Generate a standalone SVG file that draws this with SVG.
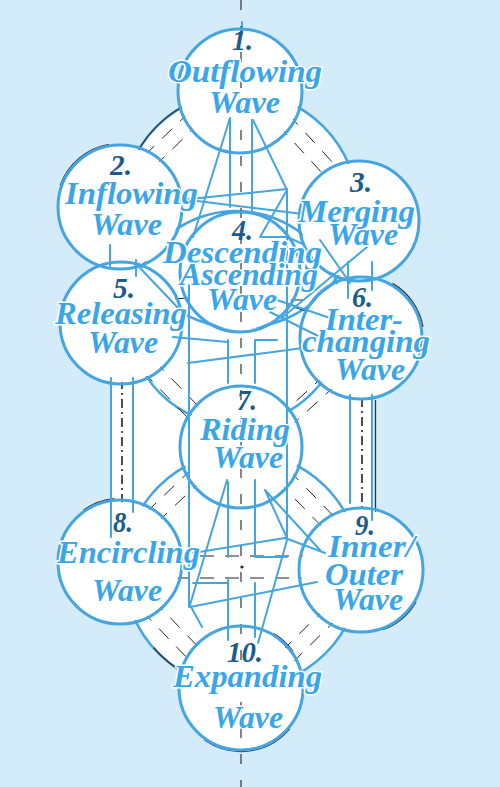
<svg xmlns="http://www.w3.org/2000/svg" width="500" height="787" viewBox="0 0 500 787">
<defs>
<style>
.ring{fill:none;stroke:#45a5e1;stroke-width:2.5}
.ln{fill:none;stroke:#45a5e1;stroke-width:2;stroke-linecap:round}
.hat{fill:none;stroke:#222;stroke-width:1;stroke-dasharray:14 11}
.blk{fill:none;stroke:#333;stroke-width:1.3}
.axis{fill:none;stroke:#222;stroke-width:1.1;stroke-dasharray:10 16}
.pil{fill:none;stroke:#222;stroke-width:1.6;stroke-dasharray:9 4 2 4}
.node{fill:none;stroke:#45a5e1;stroke-width:3}
.num{font-family:"Liberation Serif","Times New Roman",serif;font-weight:bold;font-style:italic;font-size:30px;fill:#1b5c8c}
.lab{font-family:"Liberation Serif","Times New Roman",serif;font-weight:bold;font-style:italic;font-size:31px;fill:#3aa6ea;stroke:#fff;stroke-width:3;paint-order:stroke;stroke-linejoin:round}
</style>
<mask id="outside" maskUnits="userSpaceOnUse" x="0" y="0" width="500" height="787">
<rect x="0" y="0" width="500" height="787" fill="#fff"/>
<circle cx="240" cy="91" r="60" fill="#000"/>
<circle cx="120" cy="207" r="60" fill="#000"/>
<circle cx="359" cy="221" r="58" fill="#000"/>
<circle cx="240" cy="272" r="58" fill="#000"/>
<circle cx="121" cy="323" r="59" fill="#000"/>
<circle cx="361" cy="338" r="59" fill="#000"/>
<circle cx="241" cy="447" r="59" fill="#000"/>
<circle cx="120" cy="562" r="60" fill="#000"/>
<circle cx="361" cy="570" r="60" fill="#000"/>
<circle cx="241" cy="688" r="60" fill="#000"/>
</mask>
</defs>
<rect x="0" y="0" width="500" height="787" fill="#d4ebf9"/>
<g id="backdrop" fill="#fff">
<circle cx="240" cy="210" r="118"/>
<circle cx="236" cy="318" r="107"/>
<circle cx="242" cy="570" r="118"/>
<rect x="110" y="240" width="264" height="330"/>
<circle cx="240" cy="91" r="62"/>
<circle cx="120" cy="207" r="62"/>
<circle cx="359" cy="221" r="60"/>
<circle cx="240" cy="272" r="60"/>
<circle cx="121" cy="323" r="61"/>
<circle cx="361" cy="338" r="61"/>
<circle cx="241" cy="447" r="61"/>
<circle cx="120" cy="562" r="62"/>
<circle cx="361" cy="570" r="62"/>
<circle cx="241" cy="688" r="62"/>
</g>
<g id="connectors">
<g mask="url(#outside)">
<circle class="ring" cx="240" cy="210" r="118"/>
<circle class="ring" cx="236" cy="318" r="107"/>
<circle class="ring" cx="242" cy="570" r="118"/>
<path class="hat" d="M226.1,76.6L106.1,192.6M236.4,87.2L116.4,203.2"/>
<path class="hat" d="M254.8,77.5L373.8,207.5M243.9,87.6L362.9,217.6"/>
<path class="hat" d="M108.1,335.5L228.1,459.5M119.3,324.6L239.3,448.6"/>
<path class="hat" d="M373.1,351.3L253.1,460.3M362.4,340.9L242.4,449.9"/>
<path class="hat" d="M228.6,434L107.6,549M239.5,444.2L118.5,559.2"/>
<path class="hat" d="M253.9,434.4L373.9,557.4M242.7,445.4L362.7,568.4"/>
<path class="hat" d="M107,574.5L228,700.5M118.2,563.5L239.2,689.5"/>
<path class="hat" d="M373.6,582.8L253.6,700.8M362.6,571.7L242.6,689.7"/>
<path class="hat" d="M240,300L340,300M245,292L335,320M150,300L230,296"/>
<path class="hat" d="M150,556L330,556M150,578L330,578"/>
<path class="pil" d="M122,380L122,505M362,398L362,512"/>
<path class="blk" d="M136,155A118 118 0 0 1 180,108"/>
<path class="blk" d="M153.5,647.5A119.5 119.5 0 0 0 186,674"/>
<path class="blk" d="M375.5,400L375.5,512"/>
</g>
<path class="blk" d="M60.3,185.3A63.5 63.5 0 0 1 109,144.5"/>
<path class="blk" d="M392.5,283.4A63 63 0 0 1 423,327"/>
<path class="blk" d="M83.6,510A63.5 63.5 0 0 1 114.5,498.7"/>
<path class="blk" d="M289.6,728.8A63.5 63.5 0 0 1 204.6,740"/>
<path class="blk" d="M273.7,633.6A63.5 63.5 0 0 1 293,651.6"/>
<path class="blk" d="M416,601.8A63.5 63.5 0 0 1 382.7,629.7"/>
<path class="ln" d="M111,378L111,537M133,378L133,512M350,395L350,503M372,395L372,520"/>
<path class="ln" d="M110,245L110,266M136,260L136,276M348,262L348,298M372,262L372,290"/>
<path class="ln" d="M242,22L242,34"/>
<path class="ln" d="M230,118L193,237M230,118L230,207M252,120L252,210M253,120L287,190M180,200L287,189M197,201L303,214"/>
<path class="ln" d="M287,189L287,538M189,285L189,607M287,190L260,237M262,237L287,237L303,244"/>
<path class="ln" d="M140,268L180,310M277,300L330,318M270,312L318,336M320,240L350,283M367,247L283,317"/>
<path class="ln" d="M188,363L303,348M173,337L228,342M228,340L228,383M255,340L255,383M255,340L277,340"/>
<path class="ln" d="M190,607L317,582M193,553L285,538M227,480L190,605M265,490L287,538M265,490L320,550M285,538L325,553M287,540L258,643M190,605L202,627"/>
<path class="ln" d="M228,482L228,557M228,580L228,640M255,480L255,557M255,583L255,637M255,557L287,557M193,583L228,583"/>
<path class="axis" d="M241,0L241,787"/>
<circle cx="242" cy="567" r="1.6" fill="#222"/>
</g>
<g id="n1"><circle class="node" cx="240" cy="91" r="62"/><text class="num" x="232" y="50" textLength="21" lengthAdjust="spacingAndGlyphs">1.</text><text class="lab" x="168" y="82" textLength="154" lengthAdjust="spacingAndGlyphs">Outflowing</text><text class="lab" x="209" y="113" textLength="71" lengthAdjust="spacingAndGlyphs">Wave</text></g>
<g id="n2"><circle class="node" cx="120" cy="207" r="62"/><text class="num" x="110" y="175" textLength="22" lengthAdjust="spacingAndGlyphs">2.</text><text class="lab" x="65" y="204" textLength="133" lengthAdjust="spacingAndGlyphs">Inflowing</text><text class="lab" x="91" y="235" textLength="71" lengthAdjust="spacingAndGlyphs">Wave</text></g>
<g id="n3"><circle class="node" cx="359" cy="221" r="60"/><text class="num" x="350" y="192" textLength="22" lengthAdjust="spacingAndGlyphs">3.</text><text class="lab" x="298" y="222" textLength="117" lengthAdjust="spacingAndGlyphs">Merging</text><text class="lab" x="328" y="245" textLength="70" lengthAdjust="spacingAndGlyphs">Wave</text></g>
<g id="n4"><circle class="node" cx="240" cy="272" r="60"/><text class="num" x="232" y="240" textLength="21" lengthAdjust="spacingAndGlyphs">4.</text><text class="lab" x="163" y="263" textLength="159" lengthAdjust="spacingAndGlyphs">Descending</text><text class="lab" x="180" y="285" textLength="138" lengthAdjust="spacingAndGlyphs">Ascending</text><text class="lab" x="207" y="310" textLength="70" lengthAdjust="spacingAndGlyphs">Wave</text></g>
<g id="n5"><circle class="node" cx="121" cy="323" r="61"/><text class="num" x="113" y="298" textLength="22" lengthAdjust="spacingAndGlyphs">5.</text><text class="lab" x="55" y="324" textLength="132" lengthAdjust="spacingAndGlyphs">Releasing</text><text class="lab" x="88" y="353" textLength="70" lengthAdjust="spacingAndGlyphs">Wave</text></g>
<g id="n6"><circle class="node" cx="361" cy="338" r="61"/><text class="num" x="352" y="307" textLength="21" lengthAdjust="spacingAndGlyphs">6.</text><text class="lab" x="325" y="330" textLength="78" lengthAdjust="spacingAndGlyphs">Inter-</text><text class="lab" x="302" y="352" textLength="128" lengthAdjust="spacingAndGlyphs">changing</text><text class="lab" x="335" y="380" textLength="70" lengthAdjust="spacingAndGlyphs">Wave</text></g>
<g id="n7"><circle class="node" cx="241" cy="447" r="61"/><text class="num" x="237" y="410" textLength="20" lengthAdjust="spacingAndGlyphs">7.</text><text class="lab" x="200" y="440" textLength="90" lengthAdjust="spacingAndGlyphs">Riding</text><text class="lab" x="213" y="468" textLength="70" lengthAdjust="spacingAndGlyphs">Wave</text></g>
<g id="n8"><circle class="node" cx="120" cy="562" r="62"/><text class="num" x="113" y="532" textLength="20" lengthAdjust="spacingAndGlyphs">8.</text><text class="lab" x="57" y="563" textLength="143" lengthAdjust="spacingAndGlyphs">Encircling</text><text class="lab" x="92" y="601" textLength="70" lengthAdjust="spacingAndGlyphs">Wave</text></g>
<g id="n9"><circle class="node" cx="361" cy="570" r="62"/><text class="num" x="355" y="535" textLength="20" lengthAdjust="spacingAndGlyphs">9.</text><text class="lab" x="328" y="557" textLength="87" lengthAdjust="spacingAndGlyphs">Inner/</text><text class="lab" x="325" y="585" textLength="78" lengthAdjust="spacingAndGlyphs">Outer</text><text class="lab" x="333" y="610" textLength="70" lengthAdjust="spacingAndGlyphs">Wave</text></g>
<g id="n10"><circle class="node" cx="241" cy="688" r="62"/><text class="num" x="227" y="662" textLength="36" lengthAdjust="spacingAndGlyphs">10.</text><text class="lab" x="173" y="687" textLength="149" lengthAdjust="spacingAndGlyphs">Expanding</text><text class="lab" x="213" y="728" textLength="70" lengthAdjust="spacingAndGlyphs">Wave</text></g>
</svg>
